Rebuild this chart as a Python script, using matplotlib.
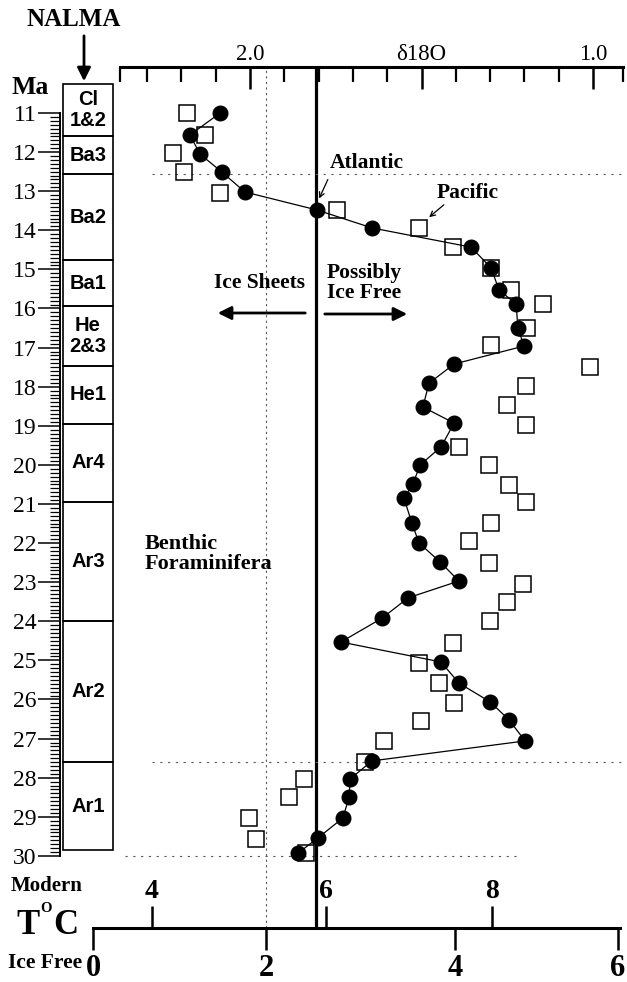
import numpy as np
import matplotlib
matplotlib.use("Agg")
import matplotlib.pyplot as plt

# ---------------- data ----------------
atl_age = [11.00, 11.56, 12.05, 12.51, 13.02, 13.48, 13.94, 14.43, 14.96, 15.53,
           15.88, 16.50, 16.96, 17.42, 17.91, 18.52, 18.93, 19.54, 20.00, 20.49,
           20.85, 21.49, 22.00, 22.48, 22.97, 23.40, 23.92, 24.53, 25.04, 25.58,
           26.06, 26.52, 27.06, 27.57, 28.03, 28.49, 29.03, 29.54, 29.93]
atl_d18o = [2.087, 2.175, 2.146, 2.082, 2.015, 1.805, 1.644, 1.356, 1.297, 1.274,
            1.224, 1.219, 1.201, 1.405, 1.478, 1.496, 1.405, 1.443, 1.504, 1.525,
            1.551, 1.528, 1.507, 1.446, 1.391, 1.539, 1.615, 1.735, 1.443, 1.391,
            1.300, 1.245, 1.198, 1.644, 1.708, 1.711, 1.729, 1.802, 1.860]

pac_age = [11.00, 11.56, 12.02, 12.51, 13.05, 13.48, 13.94, 14.43, 14.96, 15.53,
           15.88, 16.50, 16.93, 17.50, 17.98, 18.47, 18.98, 19.54, 20.00, 20.51,
           20.95, 21.49, 21.95, 22.51, 23.05, 23.51, 23.99, 24.55, 25.06, 25.58,
           26.09, 26.55, 27.06, 27.60, 28.03, 28.49, 29.03, 29.56, 29.93]
pac_d18o = [2.184, 2.131, 2.224, 2.192, 2.087, 1.746, 1.507, 1.408, 1.297, 1.239,
            1.146, 1.192, 1.297, 1.009, 1.195, 1.251, 1.195, 1.391, 1.303, 1.245,
            1.195, 1.297, 1.362, 1.303, 1.204, 1.251, 1.300, 1.408, 1.507, 1.449,
            1.405, 1.501, 1.609, 1.665, 1.843, 1.886, 2.003, 1.983, 1.837]

nalma_bounds = [10.26, 11.59, 12.56, 14.76, 15.94, 17.47, 18.95, 20.95, 23.99, 27.60, 29.85]
nalma_labels = ["Cl\n1&2", "Ba3", "Ba2", "Ba1", "He\n2&3", "He1", "Ar4", "Ar3", "Ar2", "Ar1"]

ma_ticks = list(range(11, 31))
d18o_major = [2.0, 1.5, 1.0]
d18o_major_labels = ["2.0", "\u03b418O", "1.0"]
d18o_minor = [2.3, 2.2, 2.1, 1.9, 1.8, 1.7, 1.6, 1.4, 1.3, 1.2, 1.1]

icefree_T = ["0", "2", "4", "6"]
icefree_d18o = [2.458, 1.953, 1.402, 0.927]
modern_T = ["4", "6", "8"]
modern_d18o = [2.286, 1.778, 1.294]

ice_threshold = 1.809   # bold vertical line
icefree_2C = 1.953      # dotted vertical line
hlines_main = [12.56, 27.60]

# ---------------- layout ----------------
W, H = 627, 982
fig = plt.figure(figsize=(W / 100, H / 100), dpi=100)
SERIF = ["Liberation Serif", "DejaVu Serif"]
SANS = ["Liberation Sans", "DejaVu Sans"]
plt.rcParams["font.family"] = SERIF


def px2d(x):
    return 2.0 - (x - 250) / 343.0


def py2ma(y):
    return 11 + (y - 113) / 39.1


def rect(x0, x1, y0, y1):
    return [x0 / W, 1 - y1 / H, (x1 - x0) / W, max((y1 - y0) / H, 1e-4)]


TOP, BOT = 67, 928
ylims = (py2ma(BOT), py2ma(TOP))

# main data axes
ax = fig.add_axes(rect(93, 623, TOP, BOT))
ax.set_xlim(px2d(93), px2d(623))
ax.set_ylim(*ylims)
ax.axis("off")

ax.axvline(ice_threshold, color="k", lw=2.3, zorder=1)
ax.axvline(icefree_2C, color="0.35", lw=0.8, ls=(0, (2, 3)), zorder=1)
ax.hlines(hlines_main, px2d(152), px2d(623), colors="0.35", lw=0.8,
          linestyles=(0, (2, 5)), zorder=1)
ax.hlines([30], px2d(125), px2d(520), colors="0.35", lw=0.8,
          linestyles=(0, (2, 5)), zorder=1)

ax.plot(pac_d18o, pac_age, "s", mfc="none", mec="k", ms=11, mew=1.1,
        zorder=2, clip_on=False)
ax.plot(atl_d18o, atl_age, "-o", color="k", ms=10.5, lw=0.9, zorder=3,
        clip_on=False)

# top δ18O ruler
axt = fig.add_axes(rect(120, 623, TOP, TOP))
axt.set_xlim(px2d(120), px2d(623))
axt.set_ylim(0, 1)
for s in ["left", "right", "bottom"]:
    axt.spines[s].set_visible(False)
axt.spines["top"].set_linewidth(2.2)
axt.set_yticks([])
axt.xaxis.set_ticks_position("top")
axt.set_xticks(d18o_major, d18o_major_labels)
axt.set_xticks(d18o_minor + [px2d(120), px2d(623)], minor=True)
axt.tick_params(axis="x", which="major", direction="in", length=16, width=1.8,
                labelsize=16.5, pad=1.5, top=True, bottom=False)
axt.tick_params(axis="x", which="minor", direction="in", length=11, width=1.6,
                top=True, bottom=False)
axt.patch.set_visible(False)

# left Ma ruler
axr = fig.add_axes([60 / W, 1 - BOT / H, 1e-4, (BOT - TOP) / H])
axr.set_ylim(*ylims)
for s in ["top", "right", "bottom"]:
    axr.spines[s].set_visible(False)
axr.spines["left"].set_bounds(11, 30)
axr.spines["left"].set_linewidth(1.4)
axr.set_xticks([])
axr.set_yticks(ma_ticks, [str(t) for t in ma_ticks])
axr.set_yticks(np.arange(11, 30.01, 0.1), minor=True)
axr.tick_params(axis="y", which="major", direction="out", length=16, width=1.1,
                labelsize=17, pad=1)
axr.tick_params(axis="y", which="minor", direction="out", length=7, width=0.9)
axr.patch.set_visible(False)

# NALMA boxes
axb = fig.add_axes(rect(63, 113, TOP, BOT))
axb.set_xlim(0, 1)
axb.set_ylim(*ylims)
axb.axis("off")
starts = np.array(nalma_bounds[:-1])
ends = np.array(nalma_bounds[1:])
axb.bar(0.5, ends - starts, bottom=starts, width=1, fill=False,
        edgecolor="k", lw=1.2, clip_on=False)
for s0, s1, lab in zip(starts, ends, nalma_labels):
    axb.text(0.5, (s0 + s1) / 2, lab, ha="center", va="center",
             family=SANS, fontweight="bold", fontsize=14.5, linespacing=1.1)

# bottom temperature axis
axT = fig.add_axes(rect(93, 620, BOT, BOT))
axT.set_xlim(px2d(93), px2d(620))
axT.set_ylim(0, 1)
for s in ["left", "right", "top"]:
    axT.spines[s].set_visible(False)
axT.spines["bottom"].set_linewidth(2.2)
axT.set_yticks([])
axT.set_xticks(icefree_d18o, icefree_T)
axT.tick_params(axis="x", direction="out", length=16, width=1.8,
                labelsize=22, pad=3)
for lab in axT.get_xticklabels():
    lab.set_fontweight("bold")
axT.patch.set_visible(False)
sec = axT.secondary_xaxis("top", functions=(lambda v: v, lambda v: v))
sec.spines["top"].set_visible(False)
sec.set_xticks(modern_d18o, modern_T)
sec.tick_params(axis="x", direction="out", length=16, width=1.8,
                labelsize=20, pad=1)
for lab in sec.get_xticklabels():
    lab.set_fontweight("bold")


# ---------------- text & annotations ----------------
def ftext(x, y, s, **kw):
    fig.text(x / W, 1 - y / H, s, **kw)


bold = dict(fontweight="bold", family=SERIF)
ftext(74, 20, "NALMA", ha="center", va="center", fontsize=18, **bold)
ftext(12, 88, "Ma", ha="left", va="center", fontsize=18.5, **bold)
fig.add_artist(matplotlib.patches.FancyArrowPatch(
    (84 / W, 1 - 33 / H), (84 / W, 1 - 84 / H), transform=fig.transFigure,
    arrowstyle="-|>", mutation_scale=20, lw=2, color="k"))

ftext(260, 283, "Ice Sheets", ha="center", va="center", fontsize=15.5, **bold)
ftext(327, 283, "Possibly\nIce Free", ha="left", va="center", fontsize=15.5,
      linespacing=0.95, **bold)
fig.add_artist(matplotlib.patches.FancyArrowPatch(
    (308 / W, 1 - 313 / H), (215 / W, 1 - 313 / H), transform=fig.transFigure,
    arrowstyle="-|>", mutation_scale=20, lw=2, color="k"))
fig.add_artist(matplotlib.patches.FancyArrowPatch(
    (322 / W, 1 - 314 / H), (410 / W, 1 - 314 / H), transform=fig.transFigure,
    arrowstyle="-|>", mutation_scale=20, lw=2, color="k"))

ftext(367, 163, "Atlantic", ha="center", va="center", fontsize=15.5, **bold)
ftext(468, 193, "Pacific", ha="center", va="center", fontsize=15.5, **bold)
fig.add_artist(matplotlib.patches.FancyArrowPatch(
    (329 / W, 1 - 177 / H), (318 / W, 1 - 201 / H), transform=fig.transFigure,
    arrowstyle="->", mutation_scale=9, lw=0.9, color="k"))
fig.add_artist(matplotlib.patches.FancyArrowPatch(
    (446 / W, 1 - 203 / H), (427 / W, 1 - 219 / H), transform=fig.transFigure,
    arrowstyle="->", mutation_scale=9, lw=0.9, color="k"))

ftext(145, 554, "Benthic\nForaminifera", ha="left", va="center", fontsize=16,
      linespacing=1.0, **bold)

ftext(47, 886, "Modern", ha="center", va="center", fontsize=15, **bold)
ftext(16, 926, "T", ha="left", va="center", fontsize=25, **bold)
ftext(46, 909, "O", ha="center", va="center", fontsize=10.5, **bold)
ftext(53, 926, "C", ha="left", va="center", fontsize=25, **bold)
ftext(45, 963, "Ice Free", ha="center", va="center", fontsize=15.5, **bold)

fig.savefig("out.png", dpi=100)
